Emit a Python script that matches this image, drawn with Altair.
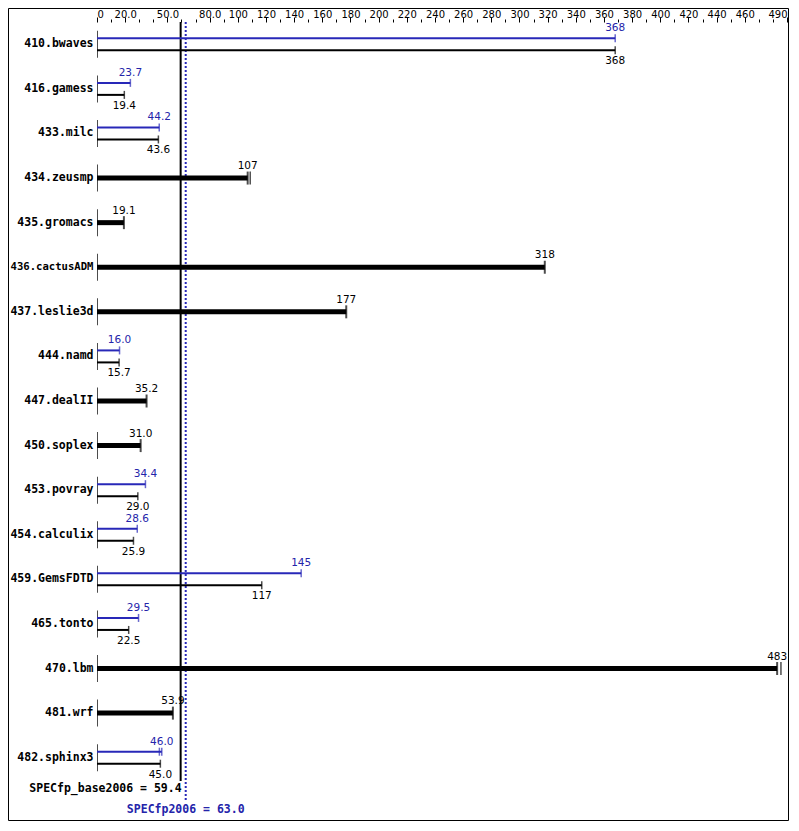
import json
import altair as alt
import pandas as pd

# ---- data ----
names = ["410.bwaves", "416.gamess", "433.milc", "434.zeusmp", "435.gromacs",
         "436.cactusADM", "437.leslie3d", "444.namd", "447.dealII", "450.soplex",
         "453.povray", "454.calculix", "459.GemsFDTD", "465.tonto", "470.lbm",
         "481.wrf", "482.sphinx3"]
base = [368, 19.4, 43.6, 107, 19.1, 318, 177, 15.7, 35.2, 31.0, 29.0, 25.9,
        117, 22.5, 483, 53.9, 45.0]
peak = [368, 23.7, 44.2, None, None, None, None, 16.0, None, None, 34.4, 28.6,
        145, 29.5, None, None, 46.0]

# extra run ticks seen next to some bar ends
extra_single_names = ["434.zeusmp", "470.lbm"]
extra_single_vals = [108.8, 485.7]
extra_peak_names = ["482.sphinx3"]
extra_peak_vals = [44.3]

score_names = ["SPECfp_base2006", "SPECfp2006"]
score_vals = [59.4, 63.0]

tick_vals = list(range(0, 491, 10))
label_vals = [0, 20, 50, 80] + list(range(100, 461, 20)) + [490]
label_text = ["0", "20.0", "50.0", "80.0"] + [str(v) for v in range(100, 461, 20)] + ["490"]

# ---- styling ----
BLUE = "#2424aa"
BLUE_LINE = "#2828b8"
W, H = 690, 758
PAD = {"left": 89, "top": 14, "right": 2, "bottom": 41}
MONO = "DejaVu Sans Mono"
SANS = "DejaVu Sans"

df = pd.DataFrame({"name": names, "base": base, "peak": peak})
df["pair"] = df["peak"].notna()

pairs = df[df["pair"]]
singles = df[~df["pair"]]
extra_s = pd.DataFrame({"name": extra_single_names, "v": extra_single_vals})
extra_p = pd.DataFrame({"name": extra_peak_names, "v": extra_peak_vals})
scores = pd.DataFrame({"name": score_names, "v": score_vals,
                       "label": [f"{n} = {v:.1f}" for n, v in zip(score_names, score_vals)]})

lv = json.dumps(label_vals)
lt = json.dumps(label_text)
xscale = alt.Scale(domain=[0, 490], nice=False, zero=False)
yscale = alt.Scale(domain=names, paddingInner=0, paddingOuter=0)

xaxis = alt.Axis(
    orient="top", values=tick_vals, domain=False, grid=False, title=None,
    tickColor="black", tickWidth=1,
    tickSize={"condition": {"test": f"indexof({lv}, datum.value) >= 0", "value": 5}, "value": 3},
    labelExpr=f"indexof({lv}, datum.value) >= 0 ? {lt}[indexof({lv}, datum.value)] : ''",
    labelFont=SANS, labelFontSize=10, labelColor="black", labelPadding=0,
    labelBaseline="alphabetic", labelFlush=True, labelOverlap=False,
)
yaxis = alt.Axis(
    orient="left", domain=False, ticks=False, grid=False, title=None,
    labelFont=MONO, labelFontWeight="bold", labelColor="black",
    labelFontSize={"condition": {"test": "length(datum.value) > 12", "value": 10.6}, "value": 11.5},
    labelPadding=4,
)

X = lambda f: alt.X(f, type="quantitative", scale=xscale, axis=xaxis)
Y = alt.Y("name:N", scale=yscale, axis=yaxis, sort=names)

zero_ticks = alt.Chart(df).mark_tick(color="black", thickness=1, size=27, xOffset=0.5).encode(
    x=alt.X(datum=0, type="quantitative", scale=xscale, axis=xaxis), y=Y)

# pairs: peak (blue) above, base (black) below
peak_bar = alt.Chart(pairs).mark_bar(height=2, yOffset=-6, color=BLUE_LINE).encode(x=X("peak"), y=Y)
peak_cap = alt.Chart(pairs).mark_tick(size=8, thickness=1.5, yOffset=-6, color=BLUE_LINE).encode(x=X("peak"), y=Y)
peak_txt = alt.Chart(pairs).mark_text(font=SANS, fontSize=10.5, color=BLUE, dy=-16, baseline="middle").encode(
    x=X("peak"), y=Y, text=alt.Text("peak:Q", format=".3r"))
base_bar = alt.Chart(pairs).mark_bar(height=2, yOffset=6, color="black").encode(x=X("base"), y=Y)
base_cap = alt.Chart(pairs).mark_tick(size=8, thickness=1.5, yOffset=6, color="black").encode(x=X("base"), y=Y)
base_txt = alt.Chart(pairs).mark_text(font=SANS, fontSize=10.5, color="black", dy=17, baseline="middle").encode(
    x=X("base"), y=Y, text=alt.Text("base:Q", format=".3r"))
extra_peak = alt.Chart(extra_p).mark_tick(size=8, thickness=1.5, yOffset=-6, color=BLUE_LINE).encode(x=X("v"), y=Y)

# singles: thick black bar
single_bar = alt.Chart(singles).mark_bar(height=5, color="black").encode(x=X("base"), y=Y)
single_cap = alt.Chart(singles).mark_tick(size=13, thickness=2, color="black").encode(x=X("base"), y=Y)
single_txt = alt.Chart(singles).mark_text(font=SANS, fontSize=10.5, color="black", dy=-12, baseline="middle").encode(
    x=X("base"), y=Y, text=alt.Text("base:Q", format=".3r"))
extra_single = alt.Chart(extra_s).mark_tick(size=13, thickness=1.5, color="black").encode(x=X("v"), y=Y)

# overall score lines and labels
sc_base = scores[scores["name"] == "SPECfp_base2006"]
sc_peak = scores[scores["name"] == "SPECfp2006"]
base_line = alt.Chart(sc_base).mark_rule(color="black", strokeWidth=2).encode(
    x=X("v"), y=alt.value(0), y2=alt.value(H + 1))
peak_line = alt.Chart(sc_peak).mark_rule(color=BLUE_LINE, strokeWidth=2, strokeDash=[2, 2]).encode(
    x=X("v"), y=alt.value(0), y2=alt.value(H + 21))
base_label = alt.Chart(sc_base).mark_text(font=MONO, fontWeight="bold", fontSize=11.5, color="black",
                                          align="right", baseline="middle", dx=1).encode(
    x=X("v"), y=alt.value(H + 9), text="label:N")
peak_label = alt.Chart(sc_peak).mark_text(font=MONO, fontWeight="bold", fontSize=11.5, color=BLUE,
                                          align="center", baseline="middle").encode(
    x=X("v"), y=alt.value(H + 30), text="label:N")

frame = alt.Chart(sc_base).mark_rect(filled=False, stroke="black", strokeWidth=1, fill=None).encode(
    x=alt.value(-PAD["left"] + 0.5), x2=alt.value(W + PAD["right"] - 0.5),
    y=alt.value(-PAD["top"] + 0.5), y2=alt.value(H + PAD["bottom"] - 0.5))

chart = alt.layer(
    zero_ticks, base_line, peak_line,
    peak_bar, base_bar, single_bar,
    peak_cap, base_cap, single_cap, extra_peak, extra_single,
    peak_txt, base_txt, single_txt,
    base_label, peak_label, frame,
).properties(
    width=W, height=H,
    autosize=alt.AutoSizeParams(type="none"),
    padding=PAD,
    background="white",
).configure_view(stroke=None)

chart.save("out.html", embed_options={"renderer": "svg", "actions": False})
